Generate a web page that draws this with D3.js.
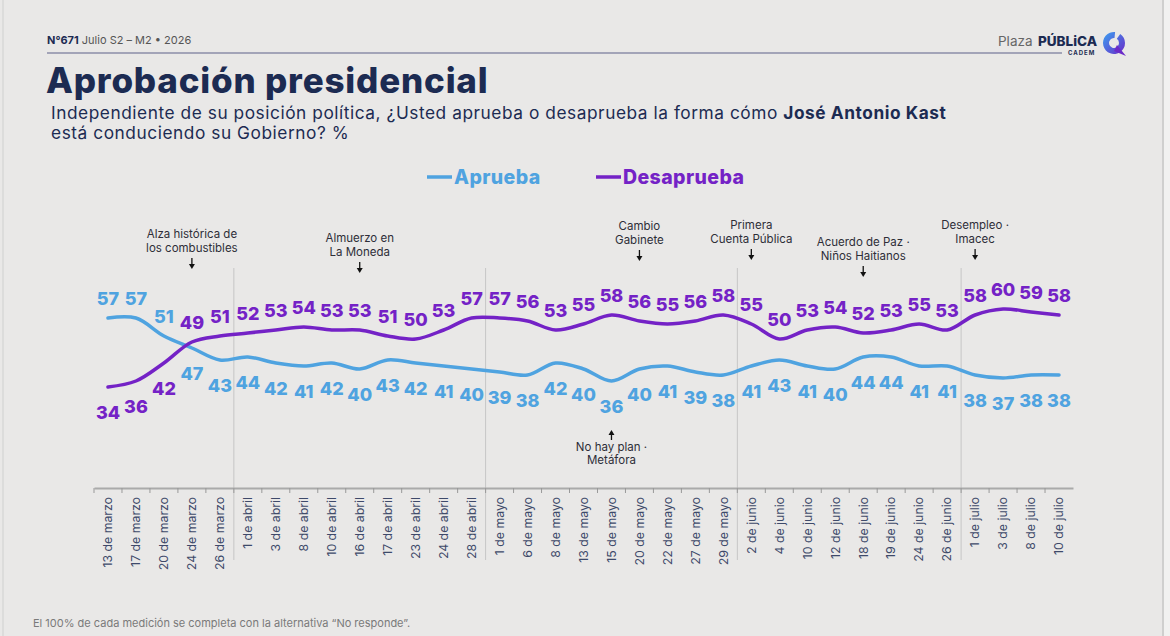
<!DOCTYPE html>
<html>
<head>
<meta charset="utf-8">
<script src="https://cdn.jsdelivr.net/npm/d3@7"></script>
<style>
  body { margin: 0; background: #e9e8e7; }
  svg { display: block; font-family: Inter, "Noto Sans", sans-serif; }
</style>
</head>
<body>
<svg width="1170" height="636"></svg>
<script>
const fechas = [
  '13 de marzo', '17 de marzo', '20 de marzo', '24 de marzo', '26 de marzo',
  '1 de abril', '3 de abril', '8 de abril', '10 de abril', '16 de abril', '17 de abril', '23 de abril', '24 de abril', '28 de abril',
  '1 de mayo', '6 de mayo', '8 de mayo', '13 de mayo', '15 de mayo', '20 de mayo', '22 de mayo', '27 de mayo', '29 de mayo',
  '2 de junio', '4 de junio', '10 de junio', '12 de junio', '18 de junio', '19 de junio', '24 de junio', '26 de junio',
  '1 de julio', '3 de julio', '8 de julio', '10 de julio'
];
const aprueba = [57, 57, 51, 47, 43, 44, 42, 41, 42, 40, 43, 42, 41, 40, 39, 38, 42, 40, 36, 40, 41, 39, 38, 41, 43, 41, 40, 44, 44, 41, 41, 38, 37, 38, 38];
const desaprueba = [34, 36, 42, 49, 51, 52, 53, 54, 53, 53, 51, 50, 53, 57, 57, 56, 53, 55, 58, 56, 55, 56, 58, 55, 50, 53, 54, 52, 53, 55, 53, 58, 60, 59, 58];

const eventos = [
  { fecha: '24 de marzo', texto: ['Alza histórica de', 'los combustibles'] },
  { fecha: '16 de abril', texto: ['Almuerzo en', 'La Moneda'] },
  { fecha: '20 de mayo', texto: ['Cambio', 'Gabinete'] },
  { fecha: '2 de junio', texto: ['Primera', 'Cuenta Pública'] },
  { fecha: '18 de junio', texto: ['Acuerdo de Paz ·', 'Niños Haitianos'] },
  { fecha: '1 de julio', texto: ['Desempleo ·', 'Imacec'] }
];
const eventoAbajo = { fecha: '15 de mayo', texto: ['No hay plan ·', 'Metáfora'] };
// top line of each event label (y), same order as eventos
const eventoY = [234, 238, 226, 225, 242, 225];

const AZUL = '#4fa3e0';
const MORADO = '#7422c6';
const NAVY = '#1c2b52';

const svg = d3.select('svg');

// frame
svg.append('rect').attr('x', 1163).attr('y', 0).attr('width', 7).attr('height', 636).attr('fill', '#f1f1f0');
svg.append('line').attr('x1', 1163).attr('x2', 1163).attr('y1', 0).attr('y2', 636).attr('stroke', '#cfcfce').attr('stroke-width', 2);
svg.append('line').attr('x1', 3).attr('x2', 3).attr('y1', 0).attr('y2', 636).attr('stroke', '#dcdcdb').attr('stroke-width', 2);

// header
var head = svg.append('text').attr('x', 47).attr('y', 44).attr('font-size', 11).attr('fill', '#555');
head.append('tspan').attr('font-weight', 700).attr('fill', NAVY).text('N°671');
head.append('tspan').text(' Julio S2 – M2 • 2026');
svg.append('line').attr('x1', 47).attr('x2', 1062).attr('y1', 53).attr('y2', 53)
  .attr('stroke', '#8b8ea8').attr('stroke-width', 1.5);

// logo
svg.append('text').attr('x', 998).attr('y', 46).attr('font-size', 13.5).attr('fill', '#666').text('Plaza');
svg.append('text').attr('x', 1038).attr('y', 46).attr('font-size', 13.5).attr('font-weight', 800).attr('fill', NAVY).text('PÚBLiCA');
svg.append('text').attr('x', 1068).attr('y', 55).attr('font-size', 6).attr('font-weight', 700).attr('fill', NAVY).attr('letter-spacing', 1).text('CADEM');
var grad = svg.append('defs').append('linearGradient').attr('id', 'lg').attr('x1', 0).attr('y1', 0).attr('x2', 1).attr('y2', 1);
grad.append('stop').attr('offset', '0%').attr('stop-color', '#3aa0f0');
grad.append('stop').attr('offset', '100%').attr('stop-color', '#6b2bc8');
svg.append('path')
  .attr('d', d3.arc().innerRadius(5).outerRadius(11).startAngle(0.6).endAngle(2 * Math.PI + 0.1)())
  .attr('transform', 'translate(1114,43)').attr('fill', 'url(#lg)');
svg.append('path').attr('d', 'M1117,45 L1126,56 L1114,51 Z').attr('fill', '#6b2bc8');

// title
svg.append('text').attr('x', 46).attr('y', 93).attr('font-size', 35).attr('font-weight', 800)
  .attr('fill', NAVY).attr('letter-spacing', 0.8).text('Aprobación presidencial');
var sub = svg.append('text').attr('x', 51).attr('y', 119).attr('font-size', 17.3).attr('fill', NAVY).attr('letter-spacing', 0.55);
sub.append('tspan').text('Independiente de su posición política, ¿Usted aprueba o desaprueba la forma cómo ');
sub.append('tspan').attr('font-weight', 700).text('José Antonio Kast');
svg.append('text').attr('x', 51).attr('y', 139).attr('font-size', 17.3).attr('fill', NAVY).attr('letter-spacing', 0.55)
  .text('está conduciendo su Gobierno? %');

// legend
var series = [
  { nombre: 'Aprueba', valores: aprueba, color: AZUL, lx: 427 },
  { nombre: 'Desaprueba', valores: desaprueba, color: MORADO, lx: 596 }
];
var leg = svg.append('g').selectAll('g').data(series).enter().append('g')
  .attr('transform', d => 'translate(' + d.lx + ',177)');
leg.append('line').attr('x1', 0).attr('x2', 25).attr('stroke', d => d.color).attr('stroke-width', 3.5);
leg.append('text').attr('x', 27).attr('y', 6.5).attr('font-size', 19.5).attr('font-weight', 800)
  .attr('letter-spacing', 0.4).attr('fill', d => d.color).text(d => d.nombre);

// scales
var x = d3.scaleBand().domain(fechas).range([94, 1073]).padding(0);
var y = d3.scaleLinear().domain([0, 60]).range([489, 309]);
var cx = d => x(d) + x.bandwidth() / 2;

// month separators
var cortes = fechas.filter((f, i) => i > 0 && f.split(' de ')[1] !== fechas[i - 1].split(' de ')[1]);
svg.append('g').selectAll('line').data(cortes).enter().append('line')
  .attr('x1', d => x(d)).attr('x2', d => x(d)).attr('y1', 268).attr('y2', 560)
  .attr('stroke', '#c6c6c6').attr('stroke-width', 1);

// x axis
var axis = svg.append('g').attr('transform', 'translate(0,488)')
  .call(d3.axisBottom(x).tickSize(0).tickPadding(0));
axis.select('.domain').attr('stroke', '#aaaaaa').attr('stroke-width', 2);
axis.selectAll('text')
  .attr('transform', 'rotate(-90)')
  .attr('text-anchor', 'end')
  .attr('x', -9).attr('y', 0).attr('dy', '0.35em')
  .attr('font-family', 'Inter, "Noto Sans", sans-serif')
  .attr('font-size', 12.3).attr('fill', '#3e4a6a');
svg.append('g').selectAll('line').data(fechas).enter().append('line')
  .attr('x1', d => x(d)).attr('x2', d => x(d)).attr('y1', 488).attr('y2', 493)
  .attr('stroke', '#999').attr('stroke-width', 1);

// lines
var linea = d3.line().x((v, i) => cx(fechas[i])).y(v => y(v)).curve(d3.curveCatmullRom.alpha(0.5));
svg.append('g').selectAll('path').data(series).enter().append('path')
  .attr('d', d => linea(d.valores)).attr('fill', 'none')
  .attr('stroke', d => d.color).attr('stroke-width', 3.5).attr('stroke-linecap', 'round');

// value labels
series.forEach(function (s, k) {
  var otra = series[1 - k].valores;
  svg.append('g').selectAll('text').data(s.valores).enter().append('text')
    .attr('x', (v, i) => cx(fechas[i]))
    .attr('y', (v, i) => v > otra[i] ? y(v) - 20 : y(v) + 25)
    .attr('text-anchor', 'middle').attr('dominant-baseline', 'central')
    .attr('font-size', 18).attr('font-weight', 800).attr('fill', s.color)
    .text(v => v);
});

// events
function flecha(g, px, y0, y1) {
  var dir = y1 > y0 ? 1 : -1;
  g.append('line').attr('x1', px).attr('x2', px).attr('y1', y0).attr('y2', y1 - dir * 3)
    .attr('stroke', '#111').attr('stroke-width', 1.3);
  g.append('path').attr('d', 'M' + (px - 3) + ',' + (y1 - dir * 5) + ' L' + (px + 3) + ',' + (y1 - dir * 5) + ' L' + px + ',' + y1 + ' Z')
    .attr('fill', '#111');
}
var ev = svg.append('g').attr('font-size', 11.5).attr('fill', '#2e2e38');
eventos.forEach(function (e, i) {
  var px = cx(e.fecha);
  e.texto.forEach(function (t, j) {
    ev.append('text').attr('x', px).attr('y', eventoY[i] + j * 14)
      .attr('text-anchor', 'middle').attr('dominant-baseline', 'central').text(t);
  });
  flecha(ev, px, eventoY[i] + 24, eventoY[i] + 35);
});
(function () {
  var px = cx(eventoAbajo.fecha);
  flecha(ev, px, 440, 430);
  eventoAbajo.texto.forEach(function (t, j) {
    ev.append('text').attr('x', px).attr('y', 447 + j * 13)
      .attr('text-anchor', 'middle').attr('dominant-baseline', 'central').text(t);
  });
})();

// footer
svg.append('text').attr('x', 33).attr('y', 627).attr('font-size', 11).attr('fill', '#7a7a7a')
  .text('El 100% de cada medición se completa con la alternativa “No responde”.');
</script>
</body>
</html>
